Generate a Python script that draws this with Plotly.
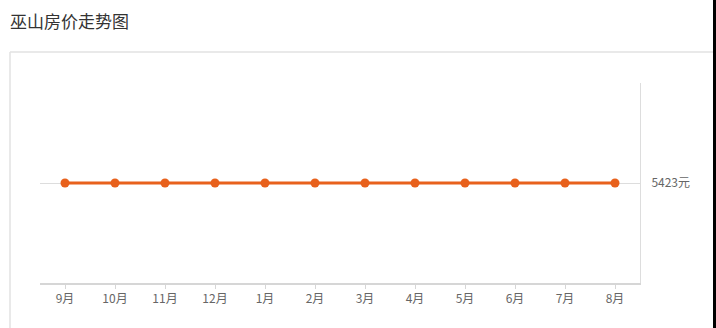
import plotly.graph_objects as go

months = ["9月", "10月", "11月", "12月", "1月", "2月", "3月", "4月", "5月", "6月", "7月", "8月"]
prices = [5423, 5423, 5423, 5423, 5423, 5423, 5423, 5423, 5423, 5423, 5423, 5423]
y_ticks = [5423]
y_tick_labels = ["5423元"]
title_text = "巫山房价走势图"

W, H = 716, 328
L, R, T, B = 40, 76, 83, 45
pw, ph = W - L - R, H - T - B

def px(x):
    return (x - L) / pw

def py(y):
    return (H - B - y) / ph

fig = go.Figure()
fig.add_trace(go.Scatter(
    x=months, y=prices, mode="lines+markers",
    line=dict(color="#e8611c", width=3),
    marker=dict(color="#e8611c", size=9),
    hoverinfo="x+y",
))

shapes = [
    dict(type="line", xref="paper", yref="paper", x0=px(10), x1=px(713), y0=py(52), y1=py(52),
         line=dict(color="#e2e2e2", width=1.5)),
    dict(type="line", xref="paper", yref="paper", x0=px(10), x1=px(10), y0=py(52), y1=py(330),
         line=dict(color="#e2e2e2", width=1.5)),
    dict(type="rect", xref="paper", yref="paper", x0=px(713), x1=px(717), y0=py(-2), y1=py(330),
         fillcolor="#000000", line=dict(width=0)),
]

fig.update_layout(
    width=W, height=H,
    margin=dict(l=L, r=R, t=T, b=B),
    paper_bgcolor="white", plot_bgcolor="white",
    showlegend=False,
    font=dict(family="Noto Sans CJK SC, Noto Sans, sans-serif", color="#666"),
    title=dict(text=title_text, x=10 / W, xanchor="left", y=1 - 22 / H, yanchor="middle",
               xref="container", yref="container",
               font=dict(size=17, color="#333", family="Noto Sans CJK SC")),
    shapes=shapes,
    xaxis=dict(
        type="category", range=[-0.5, len(months) - 0.5],
        showgrid=False, zeroline=False,
        showline=True, linecolor="#d6d6d6", linewidth=2,
        ticks="outside", ticklen=4, tickcolor="#d6d6d6", tickwidth=1,
        tickfont=dict(size=12, color="#666"),
        fixedrange=True,
    ),
    yaxis=dict(
        side="right", range=[0, 2 * prices[0]],
        tickvals=y_ticks, ticktext=y_tick_labels,
        showgrid=True, gridcolor="#dddddd", gridwidth=1,
        zeroline=False,
        showline=True, linecolor="#dddddd", linewidth=1,
        ticks="", ticklabelstandoff=8,
        tickfont=dict(size=12, color="#666"),
        fixedrange=True,
    ),
)

fig.write_html("out.html", config={"displayModeBar": False})
